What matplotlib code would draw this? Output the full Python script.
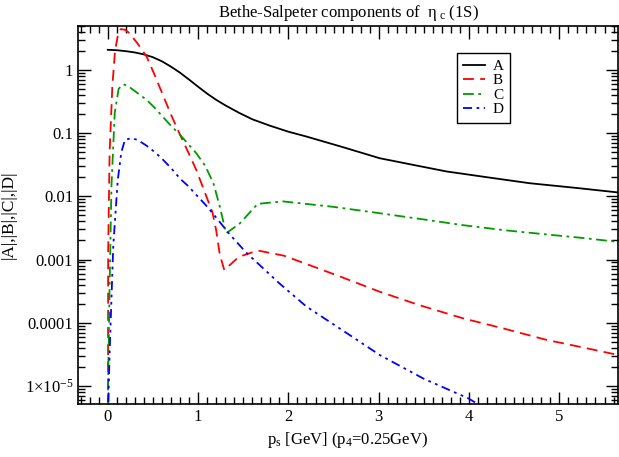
import matplotlib
matplotlib.use("Agg")
import matplotlib.pyplot as plt
from matplotlib.ticker import FixedLocator, FixedFormatter, LogLocator, MultipleLocator, NullFormatter

plt.rcParams["font.family"] = ["Liberation Serif", "DejaVu Serif"]
plt.rcParams["mathtext.fontset"] = "custom"
plt.rcParams["mathtext.rm"] = "Liberation Serif"
plt.rcParams["mathtext.it"] = "Liberation Serif:italic"

# values
p_a = [0.0, 0.1, 0.2, 0.3, 0.4, 0.5, 0.6, 0.7, 0.8, 0.9, 1.0, 1.1, 1.2, 1.3, 1.45, 1.6, 1.8, 2.0, 2.2, 2.6, 3.01, 3.4, 3.75, 4.2, 4.67, 5.2, 5.65]
amp_a = [2.07, 2.04, 1.97, 1.88, 1.75, 1.58, 1.36, 1.12, 0.9, 0.7, 0.54, 0.42, 0.335, 0.275, 0.21, 0.165, 0.13, 0.105, 0.088, 0.06, 0.040, 0.031, 0.0247, 0.020, 0.0161, 0.0135, 0.0115]

p_b = [0.0, 0.004, 0.02, 0.05, 0.08, 0.11, 0.144, 0.19, 0.24, 0.33, 0.43, 0.52, 0.61, 0.70, 0.80, 0.89, 0.98, 1.07, 1.16, 1.20, 1.24, 1.29, 1.45, 1.66, 1.95, 2.27, 2.6, 3.01, 3.45, 3.93, 4.4, 4.85, 5.25, 5.65]
amp_b = [1e-8, 0.0013, 0.049, 0.54, 2.0, 3.4, 4.4, 4.3, 3.8, 2.6, 1.62, 0.82, 0.40, 0.195, 0.094, 0.05, 0.026, 0.012, 0.0055, 0.0029, 0.0012, 0.00068, 0.0011, 0.00139, 0.00115, 0.00078, 0.00052, 0.00031, 0.00019, 0.000118, 8.0e-5, 5.4e-5, 4.1e-5, 3.1e-5]

p_c = [0.0, 0.003, 0.02, 0.04, 0.077, 0.12, 0.17, 0.22, 0.3, 0.43, 0.52, 0.61, 0.70, 0.80, 0.89, 0.98, 1.08, 1.17, 1.24, 1.31, 1.46, 1.66, 1.94, 2.5, 3.01, 3.5, 3.93, 4.4, 4.85, 5.25, 5.65]
amp_c = [1e-8, 1e-5, 0.00037, 0.014, 0.21, 0.50, 0.59, 0.56, 0.46, 0.335, 0.25, 0.18, 0.13, 0.094, 0.067, 0.048, 0.03, 0.016, 0.0069, 0.0026, 0.0037, 0.0076, 0.0083, 0.0068, 0.0054, 0.0043, 0.0035, 0.0029, 0.0025, 0.0022, 0.0019]

p_d = [0.0, 0.005, 0.02, 0.06, 0.11, 0.15, 0.19, 0.26, 0.33, 0.43, 0.52, 0.61, 0.70, 0.80, 0.89, 0.98, 1.08, 1.17, 1.35, 1.53, 1.90, 2.2, 2.57, 3.01, 3.5, 3.99, 4.3]
amp_d = [1e-8, 5e-6, 3.3e-5, 0.0016, 0.018, 0.05, 0.078, 0.083, 0.078, 0.063, 0.05, 0.038, 0.028, 0.019, 0.0145, 0.0105, 0.0074, 0.0052, 0.0025, 0.0013, 0.00042, 0.00018, 8.1e-5, 3.1e-5, 1.3e-5, 6.4e-6, 3.5e-6]

ytick_vals = [1e-5, 1e-4, 1e-3, 1e-2, 1e-1, 1]
ytick_labels = [r"1$\times$10$^{-5}$", "0.0001", "0.001", "0.01", "0.1", "1"]

fig = plt.figure(figsize=(6.19, 4.57), dpi=100)
ax = fig.add_axes([0.126, 0.116, 0.8725, 0.828])

ax.plot(p_a, amp_a, color="black", lw=1.3, label="A")
ax.plot(p_b, amp_b, color="#ff0000", lw=1.3, dashes=(6, 3.5), label="B")
ax.plot(p_c, amp_c, color="#009a00", lw=1.3, dashes=(6, 2.5, 1.5, 2.5), label="C")
ax.plot(p_d, amp_d, color="#0000ff", lw=1.3, dashes=(5, 2.5, 1.5, 2.5, 1.5, 2.5), label="D")

ax.set_yscale("log")
ax.set_xlim(-0.33, 5.65)
ax.set_ylim(5.2e-6, 5.0)

ax.xaxis.set_major_locator(MultipleLocator(1))
ax.xaxis.set_minor_locator(MultipleLocator(0.1))
ax.yaxis.set_major_locator(FixedLocator(ytick_vals))
ax.yaxis.set_major_formatter(FixedFormatter(ytick_labels))
ax.yaxis.set_minor_locator(LogLocator(base=10, subs=range(2, 10), numticks=20))
ax.yaxis.set_minor_formatter(NullFormatter())

ax.tick_params(which="both", direction="in", top=True, right=True, labelsize=12, width=1)
ax.tick_params(which="major", length=9)
ax.tick_params(which="minor", length=5)
for s in ax.spines.values():
    s.set_linewidth(1.2)

ax.set_title(r"Bethe-Salpeter components of  η$_{\ \rm c}$ (1S)", fontsize=12, pad=6)
ax.set_xlabel(r"p$_{\rm s}$ [GeV] (p$_4$=0.25GeV)", fontsize=12, labelpad=4)
ax.set_ylabel("|A|,|B|,|C|,|D|", fontsize=12.5, labelpad=6)

leg = ax.legend(loc="upper left", bbox_to_anchor=(0.702, 0.927), fontsize=11,
                handlelength=1.45, handletextpad=0.5, labelspacing=0.05,
                borderpad=0.4, frameon=True, fancybox=False, framealpha=1,
                edgecolor="black", borderaxespad=0)
leg.get_frame().set_linewidth(1.0)

fig.savefig("out.png", dpi=100)
